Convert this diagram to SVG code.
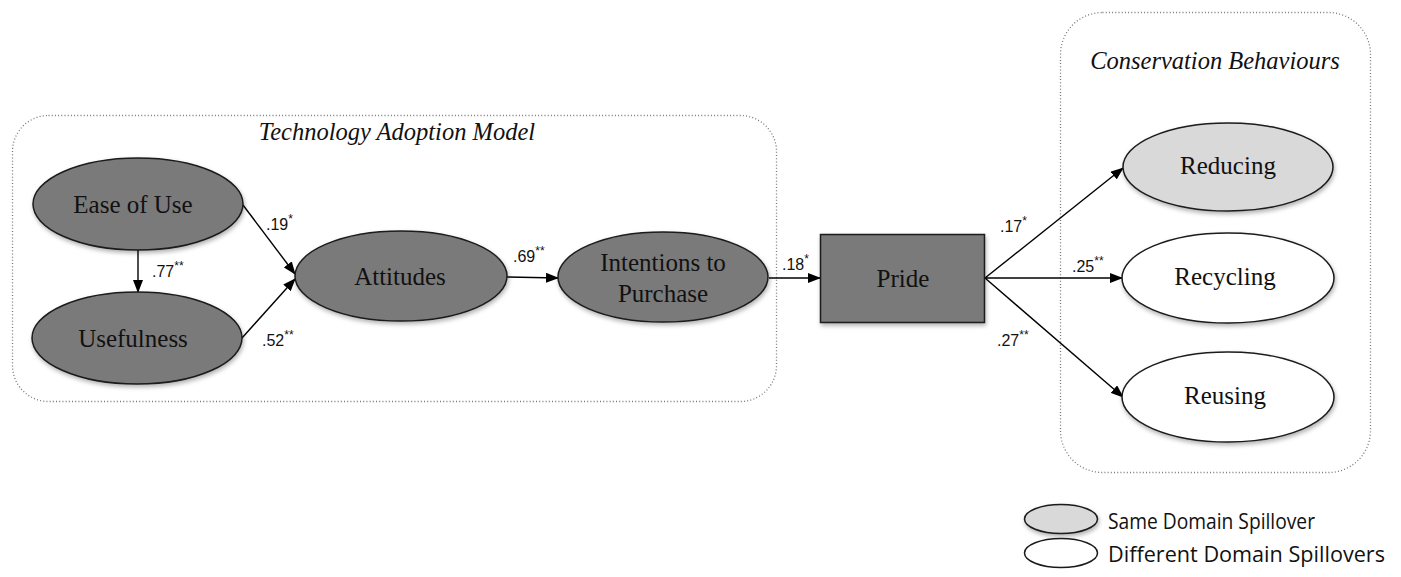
<svg xmlns="http://www.w3.org/2000/svg" width="1401" height="577" viewBox="0 0 1401 577">
  <defs>
    <marker id="arrow" markerWidth="13" markerHeight="10" refX="12" refY="5" orient="auto" markerUnits="userSpaceOnUse">
      <path d="M0,0 L13,5 L0,10 Z" fill="#000"/>
    </marker>
    <filter id="shadow" x="-20%" y="-20%" width="140%" height="150%">
      <feDropShadow dx="1" dy="2.5" stdDeviation="2" flood-color="#000" flood-opacity="0.3"/>
    </filter>
    <style>
      .group-box { fill: none; stroke: #777; stroke-width: 1.3; stroke-dasharray: 1 2.2; }
      .group-title { font-family: "Liberation Serif", "Times New Roman", serif; font-style: italic; font-size: 24.5px; fill: #111; text-anchor: middle; }
      .dark { fill: #7a7a7a; stroke: #1a1a1a; stroke-width: 1.5; filter: url(#shadow); }
      .light { fill: #d9d9d9; stroke: #1a1a1a; stroke-width: 1.5; filter: url(#shadow); }
      .white { fill: #fff; stroke: #1a1a1a; stroke-width: 1.5; filter: url(#shadow); }
      .node-label { font-family: "Liberation Serif", "Times New Roman", serif; font-size: 25px; fill: #111; text-anchor: middle; }
      .edge { stroke: #000; stroke-width: 1.4; fill: none; marker-end: url(#arrow); }
      .coef { font-family: "Liberation Sans", Arial, sans-serif; font-size: 16px; fill: #111; }
      .star { font-family: "Liberation Sans", Arial, sans-serif; font-size: 12px; fill: #111; }
      .legend-text { font-family: "Open Sans", "Liberation Sans", Arial, sans-serif; font-size: 21px; fill: #111; }
    </style>
  </defs>

  <rect width="1401" height="577" fill="#fff"/>

  <!-- group outlines -->
  <g id="group-tam">
    <rect class="group-box" x="12.5" y="115.5" width="764" height="286" rx="36"/>
    <text class="group-title" x="397" y="140">Technology Adoption Model</text>
  </g>
  <g id="group-conservation">
    <rect class="group-box" x="1060.5" y="12.5" width="310" height="460" rx="42"/>
    <text class="group-title" x="1215" y="69">Conservation Behaviours</text>
  </g>

  <!-- connectors -->
  <g id="connectors">
    <line class="edge" x1="138" y1="250" x2="138" y2="292"/>
    <line class="edge" x1="243" y1="205" x2="295" y2="274"/>
    <line class="edge" x1="242" y1="338" x2="295" y2="279"/>
    <line class="edge" x1="507" y1="277" x2="558" y2="278"/>
    <line class="edge" x1="769" y1="278" x2="820" y2="278"/>
    <line class="edge" x1="985" y1="278" x2="1123" y2="168"/>
    <line class="edge" x1="985" y1="278" x2="1122" y2="278"/>
    <line class="edge" x1="985" y1="278" x2="1123" y2="397"/>

    <text class="coef" x="266" y="230">.19<tspan class="star" dy="-7">*</tspan></text>
    <text class="coef" x="152" y="277">.77<tspan class="star" dy="-7">**</tspan></text>
    <text class="coef" x="262" y="346">.52<tspan class="star" dy="-7">**</tspan></text>
    <text class="coef" x="513" y="262">.69<tspan class="star" dy="-7">**</tspan></text>
    <text class="coef" x="782" y="270">.18<tspan class="star" dy="-7">*</tspan></text>
    <text class="coef" x="1000" y="232">.17<tspan class="star" dy="-7">*</tspan></text>
    <text class="coef" x="1072" y="272">.25<tspan class="star" dy="-7">**</tspan></text>
    <text class="coef" x="997" y="346">.27<tspan class="star" dy="-7">**</tspan></text>
  </g>

  <!-- nodes -->
  <g id="node-ease">
    <ellipse class="dark" cx="138" cy="204" rx="105" ry="46"/>
    <text class="node-label" x="133" y="213">Ease of Use</text>
  </g>
  <g id="node-usefulness">
    <ellipse class="dark" cx="137" cy="338" rx="105" ry="46"/>
    <text class="node-label" x="133" y="347">Usefulness</text>
  </g>
  <g id="node-attitudes">
    <ellipse class="dark" cx="401" cy="276" rx="106" ry="45"/>
    <text class="node-label" x="400" y="285">Attitudes</text>
  </g>
  <g id="node-intentions">
    <ellipse class="dark" cx="663" cy="277" rx="105" ry="45"/>
    <text class="node-label" x="663" y="271">Intentions to</text>
    <text class="node-label" x="663" y="302">Purchase</text>
  </g>
  <g id="node-pride">
    <rect class="dark" x="820.5" y="234.5" width="164" height="88"/>
    <text class="node-label" x="903" y="287">Pride</text>
  </g>
  <g id="node-reducing">
    <ellipse class="light" cx="1228" cy="167" rx="105" ry="44"/>
    <text class="node-label" x="1228" y="174">Reducing</text>
  </g>
  <g id="node-recycling">
    <ellipse class="white" cx="1228" cy="278" rx="106" ry="45"/>
    <text class="node-label" x="1225" y="285">Recycling</text>
  </g>
  <g id="node-reusing">
    <ellipse class="white" cx="1228" cy="397" rx="106" ry="45"/>
    <text class="node-label" x="1225" y="404">Reusing</text>
  </g>

  <!-- legend -->
  <g id="legend">
    <ellipse class="light" cx="1061" cy="519" rx="36.5" ry="14.5"/>
    <text class="legend-text" x="1108" y="529" textLength="207" lengthAdjust="spacingAndGlyphs">Same Domain Spillover</text>
    <ellipse class="white" cx="1061" cy="553" rx="36.5" ry="14.5" style="filter:none"/>
    <text class="legend-text" x="1108" y="562" textLength="277" lengthAdjust="spacingAndGlyphs">Different Domain Spillovers</text>
  </g>
</svg>
